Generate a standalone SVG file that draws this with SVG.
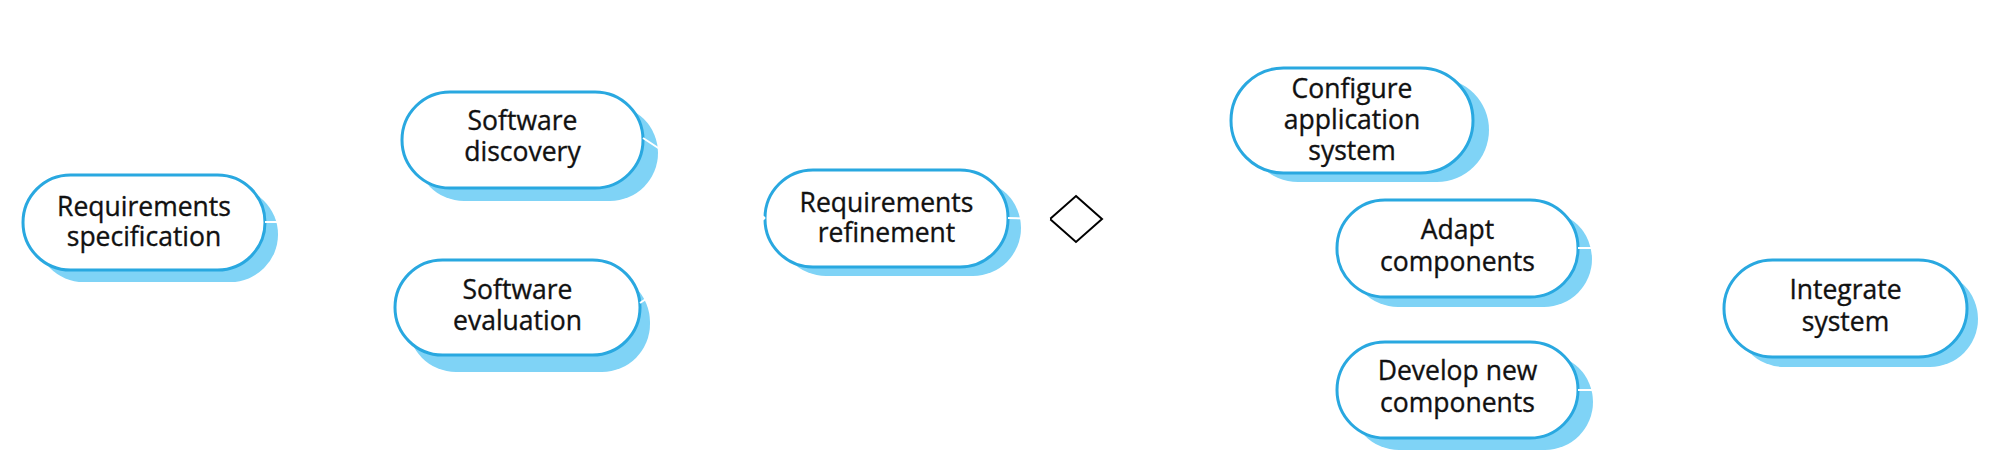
<svg xmlns="http://www.w3.org/2000/svg" width="1996" height="474" viewBox="0 0 1996 474">
<style>
.sh{fill:#7fd3f6;stroke:none}
.nd{fill:#ffffff;stroke:#29a8e0;stroke-width:3}
.tx{font-family:"Open Sans","Noto Sans",sans-serif;font-size:26.5px;fill:#111111;text-anchor:middle;stroke:#111111;stroke-width:0.35px}
.cn{fill:none;stroke:#ffffff;stroke-width:2}
</style>
<rect width="1996" height="474" fill="#ffffff"/>
<g id="n1">
<rect class="sh" x="36" y="187" width="242" height="95" rx="47.5"/>
<rect class="nd" x="23" y="175" width="242" height="95" rx="47.5"/>
<text class="tx"><tspan x="144" y="216">Requirements</tspan><tspan x="144" y="246">specification</tspan></text>
</g>
<g id="n2">
<rect class="sh" x="416" y="105" width="242" height="96" rx="48"/>
<rect class="nd" x="402" y="92" width="241" height="96" rx="48"/>
<text class="tx"><tspan x="522.5" y="130">Software</tspan><tspan x="522.5" y="161">discovery</tspan></text>
</g>
<g id="n3">
<rect class="sh" x="408" y="274" width="242" height="98" rx="48"/>
<rect class="nd" x="395" y="260" width="245" height="95" rx="47.5"/>
<text class="tx"><tspan x="517.5" y="299">Software</tspan><tspan x="517.5" y="330">evaluation</tspan></text>
</g>
<g id="n4">
<rect class="sh" x="778" y="180" width="243" height="96" rx="48"/>
<rect class="nd" x="765" y="170" width="243" height="97" rx="48"/>
<text class="tx"><tspan x="886.5" y="212">Requirements</tspan><tspan x="886.5" y="242">refinement</tspan></text>
</g>
<g id="decision">
<polygon points="1076,196 1102,219 1076,242 1050,219" fill="#ffffff" stroke="#000000" stroke-width="2"/>
</g>
<g id="n5">
<rect class="sh" x="1246" y="78" width="243" height="104" rx="52"/>
<rect class="nd" x="1231" y="68" width="242" height="105" rx="52.5"/>
<text class="tx"><tspan x="1352" y="98">Configure</tspan><tspan x="1352" y="129">application</tspan><tspan x="1352" y="160">system</tspan></text>
</g>
<g id="n6">
<rect class="sh" x="1350" y="211" width="242" height="96" rx="48"/>
<rect class="nd" x="1337" y="200" width="241" height="97" rx="48"/>
<text class="tx"><tspan x="1457.5" y="239">Adapt</tspan><tspan x="1457.5" y="271">components</tspan></text>
</g>
<g id="n7">
<rect class="sh" x="1351" y="354" width="242" height="96" rx="48"/>
<rect class="nd" x="1337" y="342" width="241" height="96" rx="48"/>
<text class="tx"><tspan x="1457.5" y="380">Develop new</tspan><tspan x="1457.5" y="412">components</tspan></text>
</g>
<g id="n8">
<rect class="sh" x="1736" y="271" width="242" height="96" rx="48"/>
<rect class="nd" x="1724" y="260" width="243" height="97" rx="48.5"/>
<text class="tx"><tspan x="1845.5" y="299">Integrate</tspan><tspan x="1845.5" y="331">system</tspan></text>
</g>
<g id="connectors">
<path class="cn" d="M265,222 L330,222"/>
<path class="cn" d="M643,138 L765,218"/>
<path class="cn" d="M640,303 L765,218"/>
<path class="cn" d="M1008,218 L1050,219"/>
<path class="cn" d="M1578,248 L1610,248"/>
<path class="cn" d="M1578,390 L1600,390"/>
</g>
</svg>
